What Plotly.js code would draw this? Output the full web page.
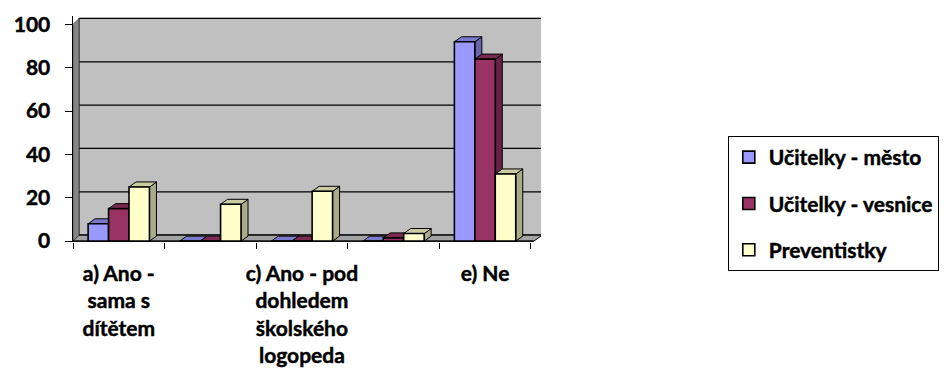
<!DOCTYPE html>
<html>
<head>
<meta charset="utf-8">
<script src="https://cdn.plot.ly/plotly-3.0.1.min.js"></script>
<style>
  html, body { margin: 0; padding: 0; background: #ffffff; }
  #chart { width: 951px; height: 379px; }
  /* heavier strokes for the bold labels */
  #chart .xtick text, #chart .ytick text, #chart .legendtext {
    stroke: #000000; stroke-width: 0.45px;
  }
</style>
</head>
<body>
<div id="chart"></div>
<script>
// Answer categories (only a, c and e carry a visible label on the axis)
const categories = [
  'a) Ano - sama s dítětem',
  'b)',
  'c) Ano - pod dohledem školského logopeda',
  'd)',
  'e) Ne'
];
const tickLabels = [
  'a) Ano -<br>sama s<br>dítětem',
  '',
  'c) Ano - pod<br>dohledem<br>školského<br>logopeda',
  '',
  'e) Ne'
];

// Series (percent of respondents)
const seriesNames = ['Učitelky - město', 'Učitelky - vesnice', 'Preventistky'];
const mesto        = [8, 0, 0, 0, 92];
const vesnice      = [15, 0, 0, 1.5, 84];
const preventistky = [25, 17, 23, 3.5, 31];
const seriesColors = ['#9999FF', '#993366', '#FFFFCC'];

const yTicks = [0, 20, 40, 60, 80, 100];

// ---- layout geometry ----
const margin = { l: 73, r: 407, t: 16, b: 137, pad: 0 };
const plotW = 951 - margin.l - margin.r;
const plotH = 379 - margin.t - margin.b;
const xRange = [-0.5, 4.611];
const yRange = [-0.4, 103.9];
const pxPerCat = plotW / (xRange[1] - xRange[0]);
const pxPerUnit = plotH / (yRange[1] - yRange[0]);

const BARGAP = 0.33;
const barW = (1 - BARGAP) / 3;          // bar width in category units
const barPx = barW * pxPerCat;          // bar width in pixels

// depth of the pseudo-3D look, in pixels
const BAR_DX = 7, BAR_DY = 5;
const WALL_DXL = 6, WALL_DXR = 8.5, WALL_DY = 6;

function shade(hex, f) {
  const n = parseInt(hex.slice(1), 16);
  const r = Math.round(((n >> 16) & 255) * f);
  const g = Math.round(((n >> 8) & 255) * f);
  const b = Math.round((n & 255) * f);
  return 'rgb(' + r + ',' + g + ',' + b + ')';
}

const allSeries = [mesto, vesnice, preventistky];
const xIdx = categories.map((c, i) => i);
const catsPx = categories.length * pxPerCat;
const wallDyData = WALL_DY / pxPerUnit;
const barDyData = BAR_DY / pxPerUnit;

// ---- walls, floor, back gridlines ----
const shapes = [];
const edge = { color: '#000000', width: 1 };
function wallShape(path, fill, line) {
  return {
    type: 'path', layer: 'below', xref: 'x', yref: 'y',
    xsizemode: 'pixel', xanchor: xRange[0], ysizemode: 'scaled',
    path: path, fillcolor: fill, line: line || edge
  };
}
const wallTop = yTicks[yTicks.length - 1];
// back wall
shapes.push(wallShape(
  'M' + WALL_DXL + ',' + wallDyData +
  ' L' + (catsPx + WALL_DXR) + ',' + wallDyData +
  ' L' + (catsPx + WALL_DXR) + ',' + (wallTop + wallDyData) +
  ' L' + WALL_DXL + ',' + (wallTop + wallDyData) + ' Z', '#C0C0C0'));
// gridlines on the back wall
yTicks.forEach(v => {
  shapes.push(wallShape(
    'M' + WALL_DXL + ',' + (v + wallDyData) +
    ' L' + (catsPx + WALL_DXR) + ',' + (v + wallDyData),
    'rgba(0,0,0,0)', { color: '#000000', width: 1.3 }));
});
// floor
shapes.push(wallShape(
  'M0,0 L' + catsPx + ',0 L' + (catsPx + WALL_DXR) + ',' + wallDyData +
  ' L' + WALL_DXL + ',' + wallDyData + ' Z', '#A3A3A3'));
// left side wall
shapes.push(wallShape(
  'M0,0 L' + WALL_DXL + ',' + wallDyData +
  ' L' + WALL_DXL + ',' + (wallTop + wallDyData) +
  ' L0,' + wallTop + ' Z', '#858585', { color: '#444444', width: 0.8 }));

// ---- top and side faces of every bar ----
categories.forEach((c, i) => {
  allSeries.forEach((vals, k) => {
    const v = vals[i];
    const left = i - (1 - BARGAP) / 2 + k * barW;
    const right = left + barW;
    const col = seriesColors[k];
    // side face
    shapes.push({
      type: 'path', layer: 'below', xref: 'x', yref: 'y',
      xsizemode: 'pixel', xanchor: right, ysizemode: 'scaled',
      path: 'M0,0 L0,' + v + ' L' + BAR_DX + ',' + (v + barDyData) +
            ' L' + BAR_DX + ',' + barDyData + ' Z',
      fillcolor: shade(col, 0.67), line: edge
    });
    // top face
    shapes.push({
      type: 'path', layer: 'below', xref: 'x', yref: 'y',
      xsizemode: 'pixel', xanchor: left, ysizemode: 'scaled',
      path: 'M0,' + v + ' L' + barPx + ',' + v +
            ' L' + (barPx + BAR_DX) + ',' + (v + barDyData) +
            ' L' + BAR_DX + ',' + (v + barDyData) + ' Z',
      fillcolor: shade(col, 0.8), line: edge
    });
  });
});

// ---- front faces (the bars themselves) ----
const traces = allSeries.map((vals, k) => ({
  type: 'bar',
  name: seriesNames[k],
  x: xIdx,
  y: vals,
  legendgroup: 'g' + k,
  marker: { color: seriesColors[k], line: { color: '#000000', width: 1.6 } },
  hoverinfo: 'name+y'
}));

const FONT = 'Lato, "Open Sans", sans-serif';
const labelFont = { family: FONT, size: 21, color: '#000000', weight: 700 };

const layout = {
  width: 951, height: 379,
  margin: margin,
  paper_bgcolor: '#FFFFFF',
  plot_bgcolor: 'rgba(0,0,0,0)',
  barmode: 'group',
  bargap: BARGAP,
  bargroupgap: 0,
  font: labelFont,
  showlegend: true,
  legend: {
    x: (732 - margin.l) / plotW, xanchor: 'left',
    y: (379 - margin.b - 136) / plotH, yanchor: 'top',
    bordercolor: '#000000', borderwidth: 1, bgcolor: '#FFFFFF',
    font: labelFont,
    tracegroupgap: 16,
    traceorder: 'grouped'
  },
  xaxis: {
    range: xRange,
    tickmode: 'array',
    tickvals: xIdx,
    ticktext: tickLabels,
    ticks: '',
    showline: false,
    showgrid: false,
    zeroline: false,
    ticklabelstandoff: 17,
    tickfont: labelFont,
    minor: {
      tickmode: 'array',
      tickvals: categories.map((c, i) => i - 0.5).concat([categories.length - 0.5]),
      ticks: 'outside', ticklen: 6, tickwidth: 1, tickcolor: '#000000',
      showgrid: false
    },
    fixedrange: true
  },
  yaxis: {
    range: yRange,
    tickmode: 'array',
    tickvals: yTicks,
    ticks: 'outside', ticklen: 7.5, tickwidth: 1, tickcolor: '#000000',
    showline: true, linecolor: '#000000', linewidth: 1,
    showgrid: false,
    zeroline: false,
    ticklabelstandoff: 10,
    tickfont: labelFont,
    fixedrange: true
  },
  shapes: shapes.concat([{
    // front edge of the floor
    type: 'path', layer: 'below', xref: 'x', yref: 'y',
    xsizemode: 'pixel', xanchor: xRange[0], ysizemode: 'scaled',
    path: 'M0,0 L' + catsPx + ',0',
    line: { color: '#000000', width: 1.3 }
  }])
};

Plotly.newPlot('chart', traces, layout, { displayModeBar: false, staticPlot: true });
</script>
</body>
</html>
